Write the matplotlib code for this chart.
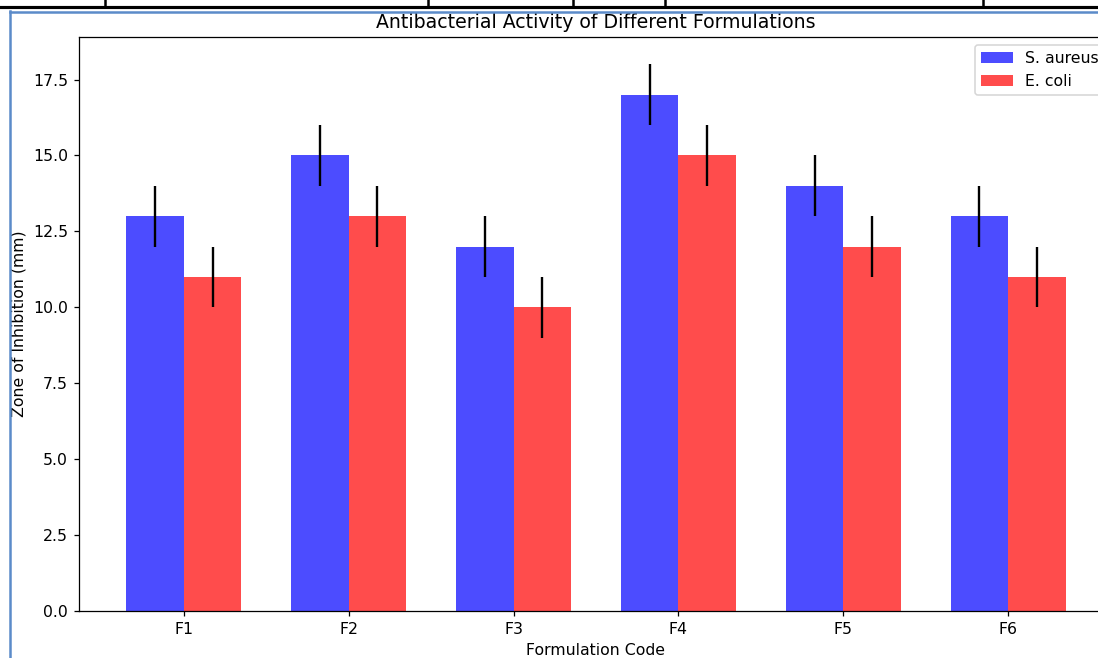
import matplotlib
matplotlib.use("Agg")
import matplotlib.pyplot as plt
from matplotlib.lines import Line2D
import numpy as np

formulations = ["F1", "F2", "F3", "F4", "F5", "F6"]
s_aureus = [13, 15, 12, 17, 14, 13]
e_coli = [11, 13, 10, 15, 12, 11]
s_aureus_err = [1, 1, 1, 1, 1, 1]
e_coli_err = [1, 1, 1, 1, 1, 1]

W, H = 1098, 658
DPI = 113  # the screenshot is scaled up a bit from the usual 100 dpi
fig = plt.figure(figsize=(W / DPI, H / DPI), dpi=DPI)

# axes runs past the right edge, like the cropped screenshot
ax = fig.add_axes([79 / W, (H - 611) / H, 1034 / W, 574 / H])

x = np.arange(len(formulations))
width = 0.35
ax.bar(x - width / 2, s_aureus, width, yerr=s_aureus_err, color="blue", alpha=0.7,
       label="S. aureus", ecolor="black")
ax.bar(x + width / 2, e_coli, width, yerr=e_coli_err, color="red", alpha=0.7,
       label="E. coli", ecolor="black")

ax.set_xticks(x)
ax.set_xticklabels(formulations)
ax.set_xlabel("Formulation Code")
ax.set_ylabel("Zone of Inhibition (mm)")
ax.set_title("Antibacterial Activity of Different Formulations")
ax.legend(loc="upper right")

# screenshot frame bits around the chart
def fline(xs, ys, color, lw):
    fig.add_artist(Line2D([v / W for v in xs], [1 - v / H for v in ys],
                          color=color, lw=lw, transform=fig.transFigure))

fline([0, W], [7, 7], "black", 2.0)
for xv in [105, 428, 573, 665, 983]:
    fline([xv, xv], [0, 7], "black", 1.6)
fline([10, W], [11.5, 11.5], "#5b8bc9", 1.6)
fline([10, 10], [11, H], "#5b8bc9", 1.6)

fig.savefig("out.png", dpi=DPI)
